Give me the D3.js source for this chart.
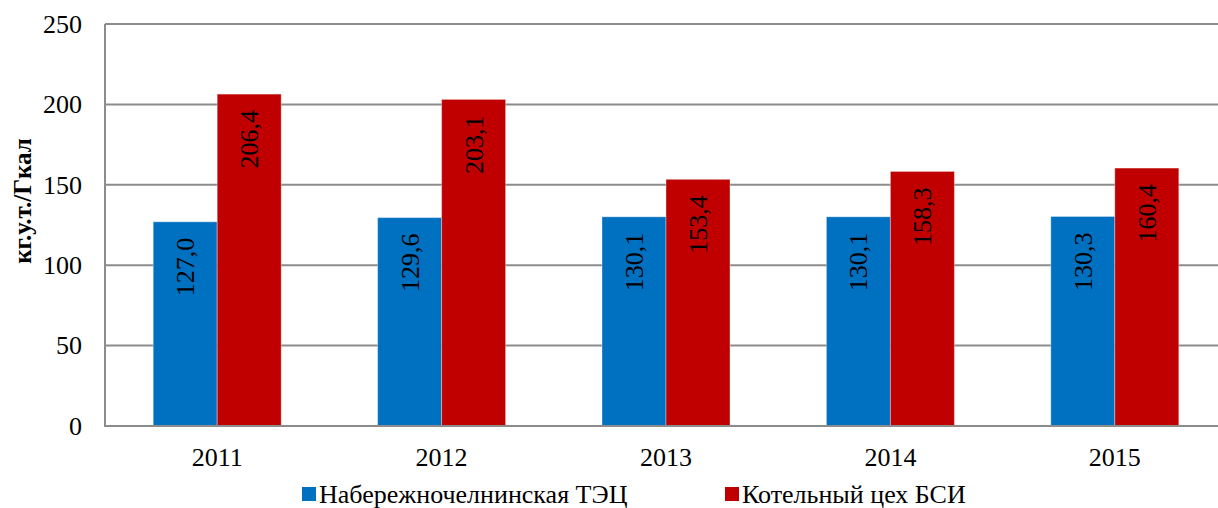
<!DOCTYPE html>
<html>
<head>
<meta charset="utf-8">
<script src="https://cdn.jsdelivr.net/npm/d3@7"></script>
<style>
  html, body { margin: 0; padding: 0; background: #fff; }
  svg { display: block; }
</style>
</head>
<body>
<svg id="chart" width="1218" height="508"></svg>
<script>
const categories = ["2011", "2012", "2013", "2014", "2015"];
const seriesNames = ["Набережночелнинская ТЭЦ", "Котельный цех БСИ"];
const tecValues = [127.0, 129.6, 130.1, 130.1, 130.3];
const bsiValues = [206.4, 203.1, 153.4, 158.3, 160.4];
const yTicks = [0, 50, 100, 150, 200, 250];
const yTitle = "кг.у.т./Гкал";
const colors = ["#0070C0", "#C00000"];

(function () {
const FONT = '"Liberation Serif"';
const svg = d3.select("#chart");
const pLeft = 105, pRight = 1227, pTop = 24, pBottom = 426;

const x = d3.scaleBand().domain(categories).range([pLeft, pRight])
  .paddingInner(0.4296).paddingOuter(0.2148);
const xs = d3.scaleBand().domain([0, 1]).range([0, x.bandwidth()]);
const y = d3.scaleLinear().domain([0, 250]).range([pBottom, pTop]);

// gridlines
svg.append("g").selectAll("line").data(yTicks.filter(t => t > 0)).join("line")
  .attr("x1", pLeft).attr("x2", 1218)
  .attr("y1", d => y(d)).attr("y2", d => y(d))
  .attr("stroke", "#8c8c8c").attr("stroke-width", 2);

// y axis tick labels
const yAxis = d3.axisLeft(y).tickValues(yTicks).tickSize(0).tickPadding(23).tickFormat(d3.format("d"));
const gy = svg.append("g").attr("transform", `translate(${pLeft},0)`).call(yAxis);
gy.select(".domain").remove();
gy.selectAll("text").style("font-family", FONT).style("font-size", "26px").attr("fill", "#000");

// bars
const data = [];
categories.forEach((c, i) => {
  [tecValues[i], bsiValues[i]].forEach((v, s) => data.push({ c, s, v }));
});
const bars = svg.append("g");
bars.selectAll("rect").data(data).join("rect")
  .attr("x", d => x(d.c) + xs(d.s))
  .attr("y", d => y(d.v))
  .attr("width", xs.bandwidth())
  .attr("height", d => y(0) - y(d.v))
  .attr("fill", d => colors[d.s])
  .attr("stroke", "rgba(255,255,255,0.35)")
  .attr("stroke-width", 1);

// value labels
const fmt = v => v.toFixed(1).replace(".", ",");
bars.selectAll("text").data(data).join("text")
  .attr("transform", d => `translate(${x(d.c) + xs(d.s) + xs.bandwidth() / 2 + 9},${y(d.v) + 16}) rotate(-90)`)
  .attr("text-anchor", "end")
  .style("font-family", FONT).style("font-size", "26px")
  .attr("fill", "#000")
  .text(d => fmt(d.v));

// axes lines
svg.append("line").attr("x1", pLeft).attr("x2", pLeft).attr("y1", pTop).attr("y2", pBottom + 1)
  .attr("stroke", "#8c8c8c").attr("stroke-width", 2);
svg.append("line").attr("x1", pLeft - 1).attr("x2", 1218).attr("y1", pBottom).attr("y2", pBottom)
  .attr("stroke", "#8c8c8c").attr("stroke-width", 2);

// x axis labels
const xAxis = d3.axisBottom(x).tickSize(0).tickPadding(22);
const gx = svg.append("g").attr("transform", `translate(0,${pBottom})`).call(xAxis);
gx.select(".domain").remove();
gx.selectAll("text").style("font-family", FONT).style("font-size", "26px").attr("fill", "#000");

// y title
svg.append("text")
  .attr("transform", "translate(31,201) rotate(-90)")
  .attr("text-anchor", "middle")
  .style("font-family", FONT).style("font-size", "25px")
  .style("font-weight", "bold")
  .attr("fill", "#000")
  .text(yTitle);

// legend
const legendX = [302, 725];
const lg = svg.append("g");
seriesNames.forEach((n, i) => {
  lg.append("rect").attr("x", legendX[i]).attr("y", 487).attr("width", 14).attr("height", 14).attr("fill", colors[i]);
  lg.append("text").attr("x", legendX[i] + 17).attr("y", 503)
    .style("font-family", FONT).style("font-size", "26px").attr("fill", "#000").text(n);
});
})();
</script>
</body>
</html>
